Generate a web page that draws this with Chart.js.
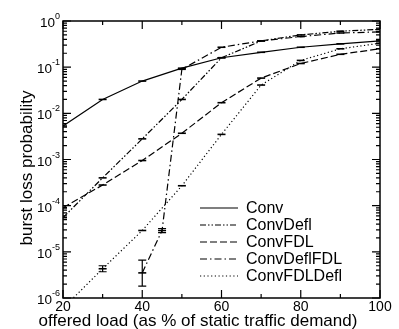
<!DOCTYPE html>
<html lang="en">
<head>
<meta charset="utf-8" />
<title>Burst loss probability</title>
<style>
    html, body { margin: 0; padding: 0; background: #fff; }
    #wrap { width: 399px; height: 329px; }
</style>
</head>
<body>
<div id="wrap"><canvas id="lossChart" width="399" height="329"></canvas></div>
<script src="https://cdn.jsdelivr.net/npm/chart.js"></script>
<script>
// offered load (% of static traffic demand)
var loads = [20, 30, 40, 45, 50, 60, 70, 80, 90, 100];

// burst loss probability per scheme (null = nothing plotted)
var conv        = [5.3e-3, 0.020, 0.050, null, 0.095, 0.16, 0.21, 0.27, 0.32, 0.37];
var convDefl    = [5.5e-5, 4.0e-4, 2.8e-3, null, 0.020, 0.16, 0.37, 0.50, 0.60, 0.66];
var convFDL     = [9.0e-5, 2.8e-4, 9.5e-4, null, 3.7e-3, 0.017, 0.058, 0.12, 0.19, 0.25];
var convDeflFDL = [null, null, 3.5e-6, 2.9e-5, 0.090, 0.27, 0.37, 0.46, 0.55, 0.58];
var convFDLDefl = [6.0e-7, 4.3e-6, 2.9e-5, null, 2.7e-4, 3.5e-3, 0.041, 0.14, 0.25, 0.33];

// confidence intervals that are wide enough to see
var deflFDLLow  = [null, null, 1.8e-6, 2.6e-5, null, null, null, null, null, null];
var deflFDLHigh = [null, null, 6.6e-6, 3.2e-5, null, null, null, null, null, null];
var fdlDeflLow  = [null, 3.7e-6, null, null, null, null, null, null, null, null];
var fdlDeflHigh = [null, 5.0e-6, null, null, null, null, null, null, null, null];

var xTicks = [20, 40, 60, 80, 100];
var xMinor = [30, 50, 70, 90];
var yExps = [0, -1, -2, -3, -4, -5, -6];

function pts(vals) {
    var out = [];
    for (var i = 0; i < loads.length; i++) {
        if (vals[i] !== null) out.push({ x: loads[i], y: vals[i] });
    }
    return out;
}

function series(label, vals, dash, lo, hi) {
    return {
        label: label,
        data: pts(vals),
        borderColor: '#000',
        backgroundColor: '#000',
        borderWidth: 1.2,
        borderDash: dash,
        pointStyle: 'line',
        pointRadius: 4,
        pointBorderWidth: 1.6,
        pointHoverRadius: 4,
        tension: 0,
        errLow: lo,
        errHigh: hi
    };
}

var FONT = '"Liberation Sans", Arial, Helvetica, sans-serif';

// frame, inward ticks, labels, error bars and legend
var decorations = {
    id: 'decorations',
    afterDatasetsDraw: function(chart) {
        var ctx = chart.ctx;
        var a = chart.chartArea;
        var xs = chart.scales.x, ys = chart.scales.y;
        ctx.save();
        ctx.strokeStyle = '#000';
        ctx.fillStyle = '#000';
        ctx.setLineDash([]);

        // error bars
        chart.data.datasets.forEach(function(ds) {
            if (!ds.errLow) return;
            ctx.lineWidth = 1.2;
            for (var i = 0; i < loads.length; i++) {
                if (ds.errLow[i] === null) continue;
                var px = xs.getPixelForValue(loads[i]);
                var p1 = ys.getPixelForValue(ds.errLow[i]);
                var p2 = ys.getPixelForValue(ds.errHigh[i]);
                ctx.beginPath();
                ctx.moveTo(px, p1); ctx.lineTo(px, p2);
                ctx.moveTo(px - 4, p1); ctx.lineTo(px + 4, p1);
                ctx.moveTo(px - 4, p2); ctx.lineTo(px + 4, p2);
                ctx.stroke();
            }
        });

        // frame
        ctx.lineWidth = 1.5;
        ctx.strokeRect(a.left, a.top, a.right - a.left, a.bottom - a.top);

        // x ticks
        ctx.lineWidth = 1.2;
        ctx.beginPath();
        xTicks.forEach(function(v) {
            var px = xs.getPixelForValue(v);
            ctx.moveTo(px, a.bottom); ctx.lineTo(px, a.bottom - 8);
            ctx.moveTo(px, a.top); ctx.lineTo(px, a.top + 8);
        });
        xMinor.forEach(function(v) {
            var px = xs.getPixelForValue(v);
            ctx.moveTo(px, a.bottom); ctx.lineTo(px, a.bottom - 4);
            ctx.moveTo(px, a.top); ctx.lineTo(px, a.top + 4);
        });
        // y ticks
        yExps.forEach(function(e) {
            var py = ys.getPixelForValue(Math.pow(10, e));
            ctx.moveTo(a.left, py); ctx.lineTo(a.left + 8, py);
            ctx.moveTo(a.right, py); ctx.lineTo(a.right - 8, py);
            if (e > -6) {
                for (var m = 2; m <= 9; m++) {
                    var pm = ys.getPixelForValue(m * Math.pow(10, e - 1));
                    ctx.moveTo(a.left, pm); ctx.lineTo(a.left + 4, pm);
                    ctx.moveTo(a.right, pm); ctx.lineTo(a.right - 4, pm);
                }
            }
        });
        ctx.stroke();

        // x tick labels
        ctx.font = '14px ' + FONT;
        ctx.textAlign = 'center';
        ctx.textBaseline = 'top';
        xTicks.forEach(function(v) {
            ctx.fillText(String(v), xs.getPixelForValue(v), a.bottom + 2);
        });

        // y tick labels 10^e
        yExps.forEach(function(e) {
            var py = ys.getPixelForValue(Math.pow(10, e));
            ctx.font = '9px ' + FONT;
            var sup = e === 0 ? '0' : '-' + (-e);
            var sw = ctx.measureText(sup).width;
            ctx.textAlign = 'left';
            ctx.textBaseline = 'alphabetic';
            ctx.fillText(sup, a.left - 3 - sw, py - 2);
            ctx.font = '13.5px ' + FONT;
            ctx.textAlign = 'right';
            ctx.fillText('10', a.left - 3 - sw, py + 6);
        });

        // axis titles
        ctx.font = '17px ' + FONT;
        ctx.textAlign = 'center';
        ctx.textBaseline = 'alphabetic';
        ctx.fillText('offered load (as % of static traffic demand)', 198, 326);
        ctx.save();
        ctx.translate(32, 168);
        ctx.rotate(-Math.PI / 2);
        ctx.fillText('burst loss probability', 0, 0);
        ctx.restore();

        // legend
        ctx.font = '16px ' + FONT;
        ctx.textAlign = 'left';
        ctx.textBaseline = 'middle';
        chart.data.datasets.forEach(function(ds, i) {
            var ly = 208 + i * 17;
            ctx.lineWidth = 1.2;
            ctx.setLineDash(ds.borderDash);
            ctx.beginPath();
            ctx.moveTo(200, ly); ctx.lineTo(238, ly);
            ctx.stroke();
            ctx.setLineDash([]);
            ctx.fillText(ds.label, 246, ly + 1);
        });
        ctx.restore();
    }
};

new Chart(document.getElementById('lossChart'), {
    type: 'line',
    data: {
        datasets: [
            series('Conv', conv, []),
            series('ConvDefl', convDefl, [6, 2, 1.5, 2, 1.5, 2]),
            series('ConvFDL', convFDL, [7, 3]),
            series('ConvDeflFDL', convDeflFDL, [7, 3, 1.5, 3], deflFDLLow, deflFDLHigh),
            series('ConvFDLDefl', convFDLDefl, [1.2, 2.5], fdlDeflLow, fdlDeflHigh)
        ]
    },
    options: {
        responsive: false,
        animation: false,
        spanGaps: true,
        layout: { padding: { left: 63, right: 19, top: 21, bottom: 31 } },
        plugins: { legend: { display: false }, tooltip: { enabled: false } },
        scales: {
            x: { type: 'linear', min: 20, max: 100, display: false },
            y: { type: 'logarithmic', min: 1e-6, max: 1, display: false }
        }
    },
    plugins: [decorations]
});
</script>
</body>
</html>
